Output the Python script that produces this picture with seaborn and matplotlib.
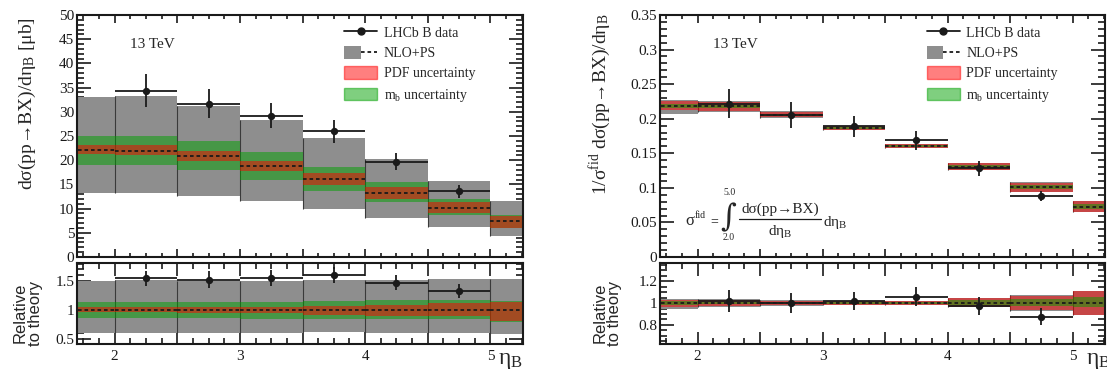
import numpy as np
import matplotlib
matplotlib.use('Agg')
import matplotlib.pyplot as plt
from matplotlib.patches import Patch
from matplotlib.lines import Line2D
from matplotlib.legend_handler import HandlerTuple
from matplotlib.ticker import MultipleLocator, FuncFormatter
import seaborn as sns

# theory bins in eta_B (outer bins are clipped by the axis range)
bin_edges = [1.5, 2.0, 2.5, 3.0, 3.5, 4.0, 4.5, 5.0, 5.5]

# NLO+PS absolute cross section [mub]
xs_central = [22.1, 22.0, 20.9, 18.9, 16.2, 13.3, 10.2, 7.5]
xs_scale_lo = [13.3, 13.3, 12.6, 11.5, 9.9, 8.0, 6.2, 4.4]
xs_scale_hi = [33.0, 33.2, 31.3, 28.4, 24.5, 20.2, 15.6, 11.5]
xs_pdf_lo = [21.2, 21.0, 19.8, 17.8, 14.9, 12.0, 9.1, 6.0]
xs_pdf_hi = [23.1, 23.1, 21.9, 19.8, 17.3, 14.5, 11.4, 8.5]
xs_mb_lo = [19.1, 19.0, 17.9, 16.0, 13.6, 11.3, 8.6, 5.9]
xs_mb_hi = [25.1, 25.1, 23.9, 21.6, 18.6, 15.5, 11.9, 8.7]

# NLO+PS normalised to fiducial cross section
norm_central = [0.219, 0.218, 0.206, 0.1864, 0.1604, 0.1301, 0.1013, 0.0725]
norm_scale_lo = [0.207, 0.2094, 0.2013, 0.1835, 0.1575, 0.1254, 0.094, 0.0644]
norm_scale_hi = [0.2277, 0.225, 0.2108, 0.190, 0.1638, 0.1364, 0.109, 0.0807]
norm_pdf_lo = [0.212, 0.2118, 0.2027, 0.1836, 0.1580, 0.1254, 0.0946, 0.0649]
norm_pdf_hi = [0.225, 0.2243, 0.2104, 0.1892, 0.1628, 0.136, 0.1076, 0.0803]
norm_mb_lo = [0.216, 0.216, 0.2045, 0.1852, 0.1595, 0.128, 0.0985, 0.0697]
norm_mb_hi = [0.222, 0.220, 0.2075, 0.1876, 0.1613, 0.1336, 0.1047, 0.0764]

# LHCb B data
data_eta = [2.25, 2.75, 3.25, 3.75, 4.25, 4.75]
data_eta_err = [0.25, 0.25, 0.25, 0.25, 0.25, 0.25]
data_xs = [34.4, 31.7, 29.2, 26.0, 19.7, 13.6]
data_xs_err = [3.5, 3.05, 2.65, 2.35, 1.75, 1.35]
data_ratio = [1.55, 1.52, 1.55, 1.60, 1.47, 1.33]
data_ratio_err = [0.13, 0.145, 0.135, 0.14, 0.13, 0.125]
data_norm = [0.222, 0.2056, 0.189, 0.1686, 0.1282, 0.0883]
data_norm_err = [0.021, 0.0185, 0.0153, 0.0137, 0.0105, 0.0077]
data_norm_ratio = [1.02, 1.0, 1.018, 1.057, 0.973, 0.876]
data_norm_ratio_err = [0.10, 0.091, 0.085, 0.087, 0.086, 0.08]

GRAY = '#8e8e8e'
GREEN = '#00a100'
RED = '#ff0000'

sns.set_theme(style='ticks')
plt.rcParams['font.family'] = ['Liberation Serif', 'DejaVu Serif']
plt.rcParams['mathtext.fontset'] = 'custom'
plt.rcParams['mathtext.rm'] = 'Liberation Serif'
plt.rcParams['mathtext.it'] = 'Liberation Serif:italic'
plt.rcParams['mathtext.default'] = 'regular'
plt.rcParams['axes.edgecolor'] = 'k'
plt.rcParams['axes.linewidth'] = 1.5

W, H = 1107, 374
fig = plt.figure(figsize=(W / 100, H / 100), dpi=100)


def px_axes(x0, y0, x1, y1):
    return fig.add_axes([x0 / W, 1 - y1 / H, (x1 - x0) / W, (y1 - y0) / H])


def ptext(x, y, s, **kw):
    # text placed in figure pixels (from top-left)
    kw.setdefault('va', 'center')
    return fig.text(x / W, 1 - y / H, s, **kw)


def draw_theory(ax, cen, slo, shi, plo, phi, mlo, mhi, red_last, ratio=False):
    edges = np.array(bin_edges)
    c = np.array(cen)
    norm = c if ratio else np.ones_like(c)

    def band(lo, hi, color, alpha, z):
        lo = np.asarray(lo) / norm
        hi = np.asarray(hi) / norm
        ax.fill_between(edges, np.append(lo, lo[-1]), np.append(hi, hi[-1]),
                        step='post', color=color, alpha=alpha, lw=0, zorder=z)

    band(slo, shi, GRAY, 1.0, 1)
    ax.vlines(edges[1:-1], np.asarray(slo)[1:] / norm[1:], np.asarray(shi)[1:] / norm[1:],
              color='#3a3a3a', lw=0.8, zorder=1.2)
    if red_last:
        band(mlo, mhi, GREEN, 0.5, 2)
        band(plo, phi, RED, 0.5, 3)
    else:
        band(plo, phi, RED, 0.5, 2)
        band(mlo, mhi, GREEN, 0.5, 3)
    ax.hlines(c / norm, edges[:-1], edges[1:], colors='k',
              linestyles=(0, (2, 1.6)), lw=1.3, zorder=4)


def draw_data(ax, y, yerr):
    ax.errorbar(data_eta, y, xerr=data_eta_err, yerr=yerr, fmt='none',
                ecolor='k', elinewidth=1.3, capsize=0, zorder=6)
    sns.scatterplot(x=data_eta, y=y, ax=ax, color='k', s=28, linewidth=0,
                    zorder=7, legend=False)


def style_axes(ax, ylim, ymaj, ymin, bottom):
    ax.set_xlim(1.7, 5.26)
    ax.set_ylim(*ylim)
    ax.xaxis.set_major_locator(MultipleLocator(0.5))
    ax.xaxis.set_minor_locator(MultipleLocator(0.125))
    ax.xaxis.set_major_formatter(FuncFormatter(
        lambda v, p: f'{v:g}' if abs(v - round(v)) < 1e-6 else ''))
    ax.yaxis.set_major_locator(MultipleLocator(ymaj))
    ax.yaxis.set_minor_locator(MultipleLocator(ymin))
    ax.yaxis.set_major_formatter(FuncFormatter(lambda v, p: f'{v:g}'))
    ax.tick_params(which='both', direction='in', top=True, right=True,
                   width=1.2, color='k', labelcolor='k', labelsize=11)
    ax.tick_params(axis='y', which='major', length=10, pad=2)
    ax.tick_params(axis='y', which='minor', length=5)
    if bottom:
        ax.tick_params(axis='x', which='major', length=9, pad=4)
        ax.tick_params(axis='x', which='minor', length=4.5)
    else:
        ax.tick_params(axis='x', which='major', length=6, labelbottom=False)
        ax.tick_params(axis='x', which='minor', length=3)
    ax.set_xlabel('')
    ax.set_ylabel('')
    for s in ax.spines.values():
        s.set_visible(True)
        s.set_zorder(10)


def add_legend(ax):
    handles = [
        Line2D([], [], color='k', marker='o', ms=5, lw=1.3),
        (Patch(facecolor=GRAY, lw=0), Line2D([], [], color='k', ls=(0, (2, 1.6)), lw=1.3)),
        Patch(facecolor=RED, alpha=0.5, edgecolor=RED, lw=1.0),
        Patch(facecolor=GREEN, alpha=0.5, edgecolor=GREEN, lw=1.0),
    ]
    labels = ['LHCb B data', 'NLO+PS', 'PDF uncertainty', r'm$_{\rm b}$ uncertainty']
    ax.legend(handles, labels, loc='upper left', bbox_to_anchor=(0.599, 0.955),
              frameon=False, borderpad=0, borderaxespad=0, handlelength=2.4,
              handleheight=1.0, handletextpad=0.45, labelspacing=0.45, fontsize=10,
              handler_map={tuple: HandlerTuple(ndivide=None)})


ax_l = px_axes(77, 15, 523, 257)
ax_lr = px_axes(77, 263, 523, 344)
ax_r = px_axes(660, 15, 1105, 257)
ax_rr = px_axes(660, 263, 1105, 344)

# left: absolute cross section
draw_theory(ax_l, xs_central, xs_scale_lo, xs_scale_hi, xs_pdf_lo, xs_pdf_hi,
            xs_mb_lo, xs_mb_hi, red_last=True)
draw_data(ax_l, data_xs, data_xs_err)
style_axes(ax_l, (0, 50), 5, 1, False)
ax_l.set_ylabel('dσ(pp→BX)/dη$_{\\rm B}$ [μb]', fontsize=14)
ax_l.yaxis.set_label_coords(-0.087, 0.634)
ax_l.text(0.119, 0.877, '13 TeV', transform=ax_l.transAxes, fontsize=11, va='center')
add_legend(ax_l)

draw_theory(ax_lr, xs_central, xs_scale_lo, xs_scale_hi, xs_pdf_lo, xs_pdf_hi,
            xs_mb_lo, xs_mb_hi, red_last=True, ratio=True)
draw_data(ax_lr, data_ratio, data_ratio_err)
style_axes(ax_lr, (0.41, 1.81), 0.5, 0.1, True)
ax_lr.set_ylabel('Relative\nto theory', fontsize=12, family='Liberation Sans',
                 linespacing=1.0)
ax_lr.yaxis.set_label_coords(-0.076, 0.38)
ax_lr.text(0.944, -0.25, r'$\eta_{\rm B}$', transform=ax_lr.transAxes,
           fontsize=17, va='baseline', ha='left')

# right: normalised cross section
draw_theory(ax_r, norm_central, norm_scale_lo, norm_scale_hi, norm_pdf_lo, norm_pdf_hi,
            norm_mb_lo, norm_mb_hi, red_last=False)
draw_data(ax_r, data_norm, data_norm_err)
style_axes(ax_r, (0, 0.35), 0.05, 0.01, False)
ax_r.set_ylabel('1/σ$^{\\rm fid}$ dσ(pp→BX)/dη$_{\\rm B}$', fontsize=14)
ax_r.yaxis.set_label_coords(-0.106, 0.63)
ax_r.text(0.119, 0.877, '13 TeV', transform=ax_r.transAxes, fontsize=11, va='center')
add_legend(ax_r)

# fiducial cross-section formula, laid out piece by piece
ptext(685, 221, 'σ', fontsize=12)
ptext(695, 215, 'fid', fontsize=7)
ptext(710, 222, '=', fontsize=10)
ptext(720, 218, '∫', fontsize=22, family=['DejaVu Serif'])
ptext(723, 193, '5.0', fontsize=7)
ptext(723, 238, '2.0', fontsize=7)
ptext(780, 209, 'dσ(pp→BX)', fontsize=11, ha='center')
fig.add_artist(Line2D([739 / W, 821 / W], [1 - 219 / H, 1 - 219 / H], color='k', lw=0.9))
ptext(780, 231, 'dη$_{\\rm B}$', fontsize=11, ha='center')
ptext(823, 222, 'dη$_{\\rm B}$', fontsize=11)

draw_theory(ax_rr, norm_central, norm_scale_lo, norm_scale_hi, norm_pdf_lo, norm_pdf_hi,
            norm_mb_lo, norm_mb_hi, red_last=False, ratio=True)
draw_data(ax_rr, data_norm_ratio, data_norm_ratio_err)
style_axes(ax_rr, (0.627, 1.364), 0.2, 0.05, True)
ax_rr.set_ylabel('Relative\nto theory', fontsize=12, family='Liberation Sans',
                 linespacing=1.0)
ax_rr.yaxis.set_label_coords(-0.085, 0.38)
ax_rr.text(0.958, -0.25, r'$\eta_{\rm B}$', transform=ax_rr.transAxes,
           fontsize=17, va='baseline', ha='left')

fig.savefig('out.png', dpi=100)
